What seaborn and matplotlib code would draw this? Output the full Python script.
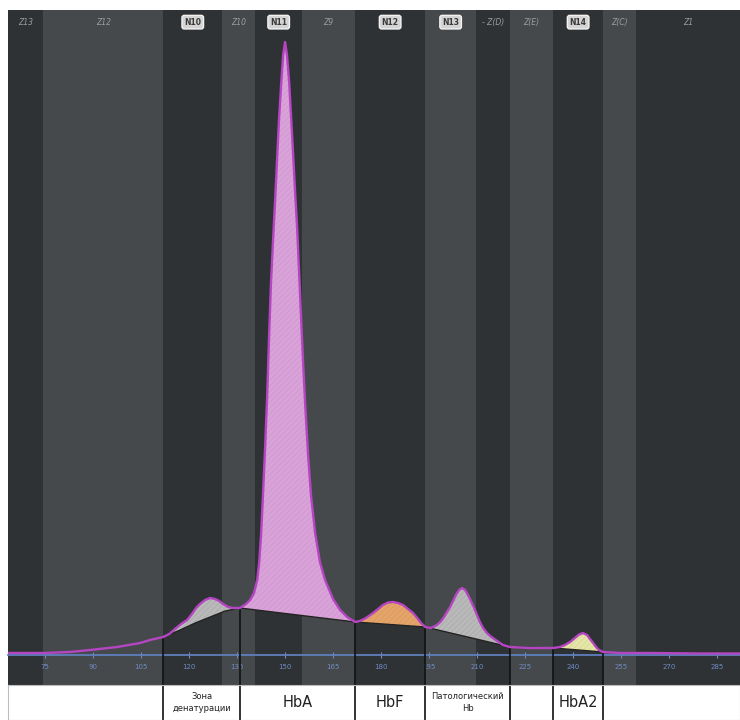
import matplotlib
matplotlib.use("Agg")
import matplotlib.pyplot as plt
import pandas as pd
import seaborn as sns

# Densitogram trace: retention position vs detector signal
trace_t = [63.4, 75.0, 82.8, 89.1, 97.5, 104.7, 107.8,
           111.9, 113.8, 115.6, 117.5, 119.4, 120.9, 122.2, 123.4, 125.0, 126.6,
           128.1, 129.4, 130.6, 132.2, 133.8, 135.9,
           137.8, 139.1, 140.3, 141.3, 141.9, 142.5, 143.1, 143.8, 144.4, 145.0,
           145.6, 146.3, 146.9, 147.5, 148.1, 148.8, 149.4, 150.0, 150.6, 151.3,
           151.9, 152.5, 153.1, 153.8, 154.4, 155.0, 155.6, 156.3, 157.2, 158.1,
           159.4, 160.9, 162.5, 165.0, 167.2, 169.4, 171.9,
           173.4, 175.3, 177.5, 179.1, 180.6, 182.2, 183.8, 185.3, 186.9, 188.4,
           190.0, 191.3, 192.5, 193.8,
           195.6, 197.5, 198.8, 199.7, 200.6, 201.6, 202.5, 203.4, 204.4, 205.3,
           206.3, 207.2, 208.1, 209.1, 210.0, 210.9, 211.9, 213.1, 214.1, 216.3,
           218.1, 220.3,
           226.6, 233.8,
           235.9, 237.5, 239.1, 240.6, 241.9, 243.1, 244.4, 245.3, 246.3, 247.2,
           248.1, 249.4,
           254.7, 264.1, 279.7, 292.2]
trace_signal = [2, 2, 3, 5, 8, 12, 15,
                18, 21, 26, 31, 35, 41, 47, 51, 55, 57,
                56, 54, 51, 48, 47, 47,
                51, 55, 62, 75, 92, 120, 160, 210, 258, 318,
                372, 418, 455, 495, 535, 572, 600, 613, 600, 572,
                537, 502, 465, 425, 382, 338, 295, 250, 200, 160,
                122, 93, 75, 56, 45, 38, 33,
                34, 37, 42, 46, 50, 52.5, 53, 52, 50, 46,
                42, 37, 32, 28,
                27, 30, 34, 38, 43, 48, 54, 60, 65, 67,
                65, 60, 54, 47, 40, 33, 27, 22, 19, 14,
                10, 8,
                7, 7,
                8, 10, 13, 17, 20.5, 22, 20, 16, 12, 8,
                5, 3,
                2, 2, 1.5, 1.5]

# Integration baseline under the fractions
baseline_t = [111.9, 117.2, 121.9, 126.6, 131.3, 135.9, 171.9, 193.8, 220.3, 233.8, 249.4]
baseline_signal = [18, 25, 32, 38, 44, 47, 33, 28, 8, 7, 3]

# Fractions: start, end, name, fill colour, hatch colour
fraction_start = [111.9, 135.9, 171.9, 193.8, 220.3, 233.8]
fraction_end = [135.9, 171.9, 193.8, 220.3, 233.8, 249.4]
fraction_names = ["Зона\nденатурации", "HbA", "HbF", "Патологический\nHb", "", "HbA2"]
fraction_fill = ["#b9b9b9", "#d9a3d9", "#e5a56a", "#b9b9b9", None, "#e6e6a6"]
fraction_hatch = ["#acacac", "#cf97cf", "#d99b60", "#acacac", None, "#d8d898"]
fraction_fontsize = [6, 10.5, 10.5, 6, 6, 10.5]

# Migration zones across the top
zone_edges = [63.4, 74.4, 111.9, 130.4, 140.7, 155.3, 171.9, 193.8, 209.7, 220.3,
              233.8, 249.4, 259.7, 292.2]
zone_labels = ["Z13", "Z12", "N10", "Z10", "N11", "Z9", "N12", "N13", "- Z(D)", "Z(E)",
               "N14", "Z(C)", "Z1"]
zone_dark = [True, False, True, False, True, False, True, False, True, False,
             True, False, True]

tick_values = [75, 90, 105, 120, 135, 150, 165, 180, 195, 210, 225, 240, 255, 270, 285]

sns.set_style("white")
plt.rcParams["hatch.linewidth"] = 0.6

fig = plt.figure(figsize=(7.4, 7.2), dpi=100)
ax = fig.add_axes([8 / 740, 35 / 720, 732 / 740, 675 / 720])
lab = fig.add_axes([8 / 740, 0, 732 / 740, 35 / 720])

xlim = (zone_edges[0], zone_edges[-1])
ax.set_xlim(*xlim)
ax.set_ylim(-30, 645)

# zone bands and labels
for i, name in enumerate(zone_labels):
    a, b = zone_edges[i], zone_edges[i + 1]
    ax.axvspan(a, b, color="#2f3235" if zone_dark[i] else "#46494c", lw=0, zorder=0)
    cx = (a + b) / 2
    if name.startswith("N"):
        ax.text(cx, 0.982, name, transform=ax.get_xaxis_transform(), ha="center",
                va="center", fontsize=5.5, fontweight="bold", color="#3a3a3a",
                bbox=dict(boxstyle="round,pad=0.3", fc="#d4d4d4", ec="#f2f2f2", lw=1))
    else:
        ax.text(cx, 0.982, name, transform=ax.get_xaxis_transform(), ha="center",
                va="center", fontsize=5.5, color="#9c9c9c", style="italic")

df = pd.DataFrame({"t": trace_t, "signal": trace_signal})
bdf = pd.DataFrame({"t": baseline_t, "signal": baseline_signal})

# fraction fills between the trace and the baseline
for a, b, fc, hc in zip(fraction_start, fraction_end, fraction_fill, fraction_hatch):
    if fc is None:
        continue
    top = df[(df.t >= a - 1e-6) & (df.t <= b + 1e-6)]
    bot = bdf[(bdf.t >= a - 1e-6) & (bdf.t <= b + 1e-6)].iloc[::-1]
    xs = list(top.t) + list(bot.t)
    ys = list(top.signal) + list(bot.signal)
    ax.fill(xs, ys, facecolor=fc, edgecolor=hc, hatch="//////", lw=0, zorder=2)

sns.lineplot(data=bdf, x="t", y="signal", color="#232323", lw=1.0, ax=ax, zorder=2.5)

# fraction boundary markers
edges = sorted(set(fraction_start + fraction_end))
for e in edges:
    yv = df.loc[(df.t - e).abs().idxmin(), "signal"]
    ax.plot([e, e], [-30, yv], color="#111111", lw=1.2, zorder=2.6)
    lab.axvline(e, color="#111111", lw=1.2)

sns.lineplot(data=df, x="t", y="signal", color="#b545c2", lw=1.7, ax=ax, zorder=3)

# axis on the zero line
for s in ["top", "right", "left"]:
    ax.spines[s].set_visible(False)
ax.spines["bottom"].set_position(("data", 0))
ax.spines["bottom"].set_color("#5f80bd")
ax.spines["bottom"].set_linewidth(1.3)
ax.spines["bottom"].set_zorder(1)
ax.set_xticks(tick_values)
ax.set_xticklabels([str(v) for v in tick_values])
ax.tick_params(axis="x", direction="inout", length=5, width=0.8, color="#6f8cc4",
               labelsize=5, labelcolor="#6f8cc4", pad=4, bottom=True)
ax.set_yticks([])
ax.set_xlabel("")
ax.set_ylabel("")

# fraction names row
lab.set_xlim(*xlim)
lab.set_ylim(0, 1)
lab.set_xticks([])
lab.set_yticks([])
lab.set_facecolor("white")
for s in lab.spines.values():
    s.set_color("#bdbdbd")
    s.set_linewidth(0.8)
for a, b, name, fs in zip(fraction_start, fraction_end, fraction_names, fraction_fontsize):
    if name:
        lab.text((a + b) / 2, 0.5, name, ha="center", va="center", fontsize=fs,
                 color="#222222", linespacing=1.5)

fig.savefig("out.png", dpi=100)
